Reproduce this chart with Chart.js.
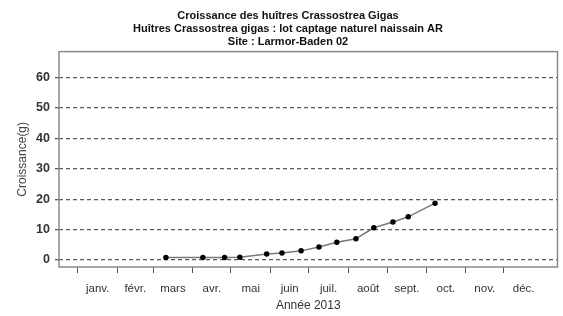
<!DOCTYPE html>
<html>
<head>
<meta charset="utf-8">
<script src="https://cdn.jsdelivr.net/npm/chart.js@4.4.1/dist/chart.umd.min.js"></script>
<style>
  html, body { margin: 0; padding: 0; background: #fff; }
  #wrap { width: 563px; height: 316px; }
</style>
</head>
<body>
<div id="wrap"><canvas id="growthChart"></canvas></div>
<script>
// Croissance des huîtres - Larmor-Baden 02, année 2013
const titleLines = [
    'Croissance des huîtres Crassostrea Gigas',
    'Huîtres Crassostrea gigas : lot captage naturel naissain AR',
    'Site : Larmor-Baden 02'
];
const monthLabels = ['janv.', 'févr.', 'mars', 'avr.', 'mai', 'juin', 'juil.', 'août', 'sept.', 'oct.', 'nov.', 'déc.'];
// first day of each month (day of year, 0 = 1 janvier), plus end of year
const monthStarts = [0, 31, 59, 90, 120, 151, 181, 212, 243, 273, 304, 334, 365];
const yTicks = [0, 10, 20, 30, 40, 50, 60];

// sampling dates (day of year) and weight in grams
const sampleDays = [69, 98, 115, 127, 148, 160, 175, 189, 203, 218, 232, 247, 259, 280];
const growth = [0.8, 0.8, 0.8, 0.9, 2.0, 2.3, 3.0, 4.3, 5.8, 7.0, 10.6, 12.5, 14.2, 18.7];

const points = sampleDays.map((d, i) => ({ x: d, y: growth[i] }));
const tickStarts = monthStarts.slice(0, 12);
const midMonths = tickStarts.map((d, i) => (d + monthStarts[i + 1]) / 2);

const FONT = 'Liberation Sans, Arial, sans-serif';

// grey box round the plot area
const boxPlugin = {
    id: 'plotBox',
    afterDraw(chart) {
        const a = chart.chartArea;
        const ctx = chart.ctx;
        ctx.save();
        ctx.strokeStyle = '#8a8a8a';
        ctx.lineWidth = 1.5;
        ctx.strokeRect(a.left, a.top, a.right - a.left, a.bottom - a.top);
        ctx.restore();
    }
};

new Chart(document.getElementById('growthChart'), {
    type: 'line',
    data: {
        datasets: [{
            data: points,
            borderColor: '#7a7a7a',
            borderWidth: 1.5,
            pointBackgroundColor: '#000',
            pointBorderColor: '#000',
            pointRadius: 2,
            tension: 0,
            fill: false
        }]
    },
    options: {
        responsive: true,
        maintainAspectRatio: false,
        animation: false,
        layout: { padding: { left: 15, right: 2, top: 0, bottom: 0 } },
        plugins: {
            legend: { display: false },
            tooltip: { enabled: false },
            title: {
                display: true,
                text: titleLines,
                color: '#111',
                font: { family: FONT, size: 11, weight: 'bold', lineHeight: 1.2 },
                padding: { top: 9, bottom: 3 }
            }
        },
        scales: {
            x: {
                type: 'linear',
                min: -14.8,
                max: 376,
                afterFit(scale) { scale.height = 49; },
                afterBuildTicks(scale) {
                    scale.ticks = tickStarts.concat(midMonths)
                        .sort((a, b) => a - b)
                        .map(v => ({ value: v }));
                },
                grid: {
                    drawOnChartArea: false,
                    drawTicks: true,
                    tickLength: 6,
                    tickColor: ctx => (ctx.tick && tickStarts.includes(ctx.tick.value)) ? '#555' : 'rgba(0,0,0,0)',
                    tickWidth: 1
                },
                border: { display: false },
                ticks: {
                    autoSkip: false,
                    maxRotation: 0,
                    padding: 9,
                    color: '#333',
                    font: { family: FONT, size: 11.5 },
                    callback: function(value) {
                        const i = midMonths.indexOf(value);
                        return i >= 0 ? monthLabels[i] : '';
                    }
                },
                title: {
                    display: true,
                    text: 'Année 2013',
                    color: '#333',
                    font: { family: FONT, size: 12 },
                    padding: { top: 0, bottom: 3 }
                }
            },
            y: {
                min: -2.31,
                max: 68.57,
                afterFit(scale) { scale.width = 44; },
                afterBuildTicks(scale) {
                    scale.ticks = yTicks.map(v => ({ value: v }));
                },
                grid: {
                    color: '#5a5a5a',
                    lineWidth: 1.3,
                    drawTicks: true,
                    tickLength: 4,
                    tickColor: '#555',
                    tickBorderDash: []
                },
                border: { display: false, dash: [4, 3] },
                ticks: {
                    padding: 5,
                    color: '#333',
                    font: { family: FONT, size: 12.5, weight: 'bold' }
                },
                title: {
                    display: true,
                    text: 'Croissance(g)',
                    color: '#444',
                    font: { family: FONT, size: 12 },
                    padding: { top: 0, bottom: 0 }
                }
            }
        }
    },
    plugins: [boxPlugin]
});
</script>
</body>
</html>
